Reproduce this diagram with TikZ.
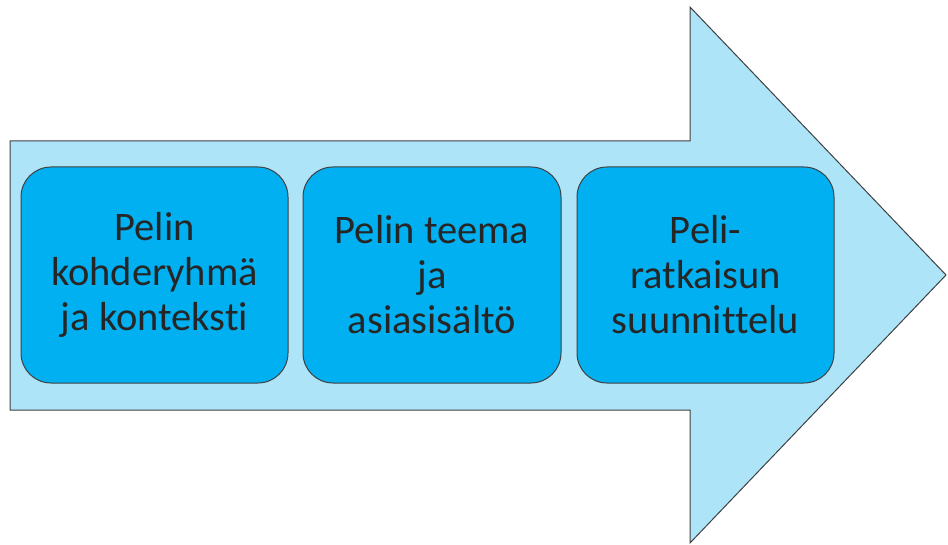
\documentclass[tikz,border=0pt]{standalone}
\usepackage{fontspec}
\setmainfont{Carlito}[Ligatures={NoCommon}]
\definecolor{arrowfill}{HTML}{ADE4F8}
\definecolor{boxfill}{HTML}{00B0F0}
\definecolor{edge}{HTML}{404040}
\definecolor{txt}{HTML}{262626}
\tikzset{
  stepbox/.style={draw=edge, line width=1pt, fill=boxfill, rounded corners=30pt,
    minimum height=216pt, align=center, text=txt,
    font=\fontsize{40.5}{45}\selectfont, inner sep=0pt},
  bigarrow/.style={draw=edge, line width=1pt, fill=arrowfill, line join=miter}
}
\begin{document}
\begin{tikzpicture}[x=1pt,y=-1pt]
\useasboundingbox (0,0) rectangle (948,545);
\draw[bigarrow] (10,141) coordinate (a1) -- (690,141) -- (690,7) -- (946,275) -- (690,543) -- (690,410) -- (10,410) -- cycle;
\node[stepbox, minimum width=267pt] (b1) at (154.5,275) {Pelin\\kohderyhmä\\ja konteksti};
\node[stepbox, minimum width=258pt] (b2) at (432,275) {Pelin teema\\ja\\asiasisältö};
\node[stepbox, minimum width=257pt] (b3) at (705.5,275) {Peli-\\ratkaisun\\suunnittelu};
\end{tikzpicture}
\end{document}
